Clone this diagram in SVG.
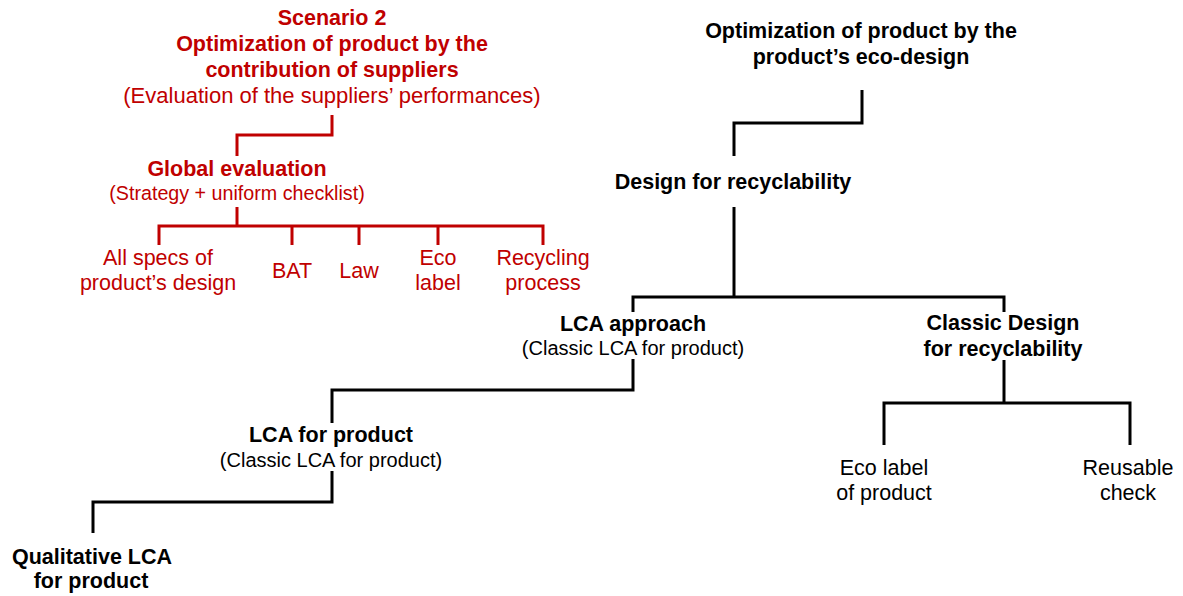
<svg xmlns="http://www.w3.org/2000/svg" width="1183" height="596" viewBox="0 0 1183 596">
<style>
text{font-family:"Liberation Sans",Arial,sans-serif;text-anchor:middle}
.rb{fill:#C00000;font-weight:bold;font-size:21.5px}
.rr{fill:#C00000;font-size:21.5px}
.re{fill:#C00000;font-size:22px}
.rs{fill:#C00000;font-size:19.7px}
.kb{fill:#000;font-weight:bold;font-size:21.5px}
.kr{fill:#000;font-size:21.5px}
.ks{fill:#000;font-size:20px}
.cr{fill:none;stroke:#C00000;stroke-width:3}
.ck{fill:none;stroke:#000;stroke-width:3}
</style>
<rect width="1183" height="596" fill="#fff"/>
<g id="connectors">
<path class="cr" d="M332 115 V135 H237 V156"/>
<path class="cr" d="M237 207 V226"/>
<path class="cr" d="M159 245 V226 H543 V245"/>
<path class="cr" d="M292 226 V245 M359 226 V245 M438 226 V245"/>
<path class="ck" d="M862 90 V123 H734 V156"/>
<path class="ck" d="M734 207 V297"/>
<path class="ck" d="M633 312 V297 H1004 V312"/>
<path class="ck" d="M633 359 V390 H332 V423"/>
<path class="ck" d="M332 471 V502 H93 V533"/>
<path class="ck" d="M1004 360 V403"/>
<path class="ck" d="M884 445 V403 H1130 V445"/>
</g>
<g id="scenario2">
<text class="rb" x="332" y="25">Scenario 2</text>
<text class="rb" x="332" y="51">Optimization of product by the</text>
<text class="rb" x="332" y="77">contribution of suppliers</text>
<text class="re" x="332" y="103">(Evaluation of the suppliers’ performances)</text>
</g>
<g id="global-evaluation">
<text class="rb" x="237" y="176">Global evaluation</text>
<text class="rs" x="237" y="200">(Strategy + uniform checklist)</text>
</g>
<g id="all-specs">
<text class="rr" x="158" y="265">All specs of</text>
<text class="rr" x="158" y="290">product’s design</text>
</g>
<g id="bat"><text class="rr" x="292" y="278">BAT</text></g>
<g id="law"><text class="rr" x="359" y="278">Law</text></g>
<g id="eco-label-red">
<text class="rr" x="438" y="265">Eco</text>
<text class="rr" x="438" y="290">label</text>
</g>
<g id="recycling-process">
<text class="rr" x="543" y="265">Recycling</text>
<text class="rr" x="543" y="290">process</text>
</g>
<g id="eco-design">
<text class="kb" x="861" y="38">Optimization of product by the</text>
<text class="kb" x="861" y="64">product’s eco-design</text>
</g>
<g id="design-recyclability">
<text class="kb" x="733" y="189">Design for recyclability</text>
</g>
<g id="lca-approach">
<text class="kb" x="633" y="331">LCA approach</text>
<text class="ks" x="633" y="355">(Classic LCA for product)</text>
</g>
<g id="classic-design">
<text class="kb" x="1003" y="330">Classic Design</text>
<text class="kb" x="1003" y="356">for recyclability</text>
</g>
<g id="lca-product">
<text class="kb" x="331" y="442">LCA for product</text>
<text class="ks" x="331" y="467">(Classic LCA for product)</text>
</g>
<g id="qualitative-lca">
<text class="kb" x="92" y="564">Qualitative LCA</text>
<text class="kb" x="91" y="588">for product</text>
</g>
<g id="eco-label-product">
<text class="kr" x="884" y="475">Eco label</text>
<text class="kr" x="884" y="500">of product</text>
</g>
<g id="reusable-check">
<text class="kr" x="1128" y="475">Reusable</text>
<text class="kr" x="1128" y="500">check</text>
</g>
</svg>
